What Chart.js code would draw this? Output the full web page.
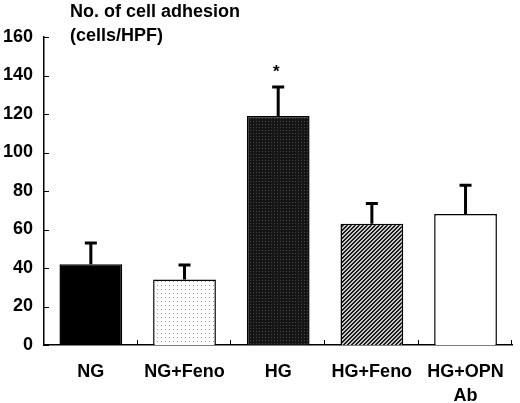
<!DOCTYPE html>
<html>
<head>
<meta charset="utf-8">
<script src="https://cdn.jsdelivr.net/npm/chart.js@4.4.1/dist/chart.umd.min.js"></script>
<style>
  html, body { margin: 0; padding: 0; background: #fff; }
  #wrap { width: 520px; height: 403px; }
</style>
</head>
<body>
<div id="wrap"><canvas id="adhesion-chart" width="520" height="403"></canvas></div>
<script>
// data
var groups = [['NG'], ['NG+Feno'], ['HG'], ['HG+Feno'], ['HG+OPN', 'Ab']];
var adhesion = [42, 34, 119, 63, 68];
var sem = [11, 7.5, 15, 10.5, 15];
var marks = ['', '', '*', '', ''];
var yTicks = [0, 20, 40, 60, 80, 100, 120, 140, 160];
var titleLines = ['No. of cell adhesion', '(cells/HPF)'];

var FAMILY = '"Liberation Sans", Arial, sans-serif';

var ctx = document.getElementById('adhesion-chart').getContext('2d');

function makePattern(size, draw) {
    var c = document.createElement('canvas');
    c.width = size;
    c.height = size;
    var g = c.getContext('2d');
    draw(g, size);
    return ctx.createPattern(c, 'repeat');
}

// fills that mimic the printed textures
var dotted = makePattern(4, function(g, s) {
    g.fillStyle = '#fff';
    g.fillRect(0, 0, s, s);
    g.fillStyle = '#999';
    g.fillRect(1, 1, 1, 1);
});
var darkCross = makePattern(3, function(g, s) {
    g.fillStyle = '#151515';
    g.fillRect(0, 0, s, s);
    g.fillStyle = '#444';
    g.fillRect(1, 1, 1, 1);
});
var diagonal = makePattern(4, function(g, s) {
    g.fillStyle = '#c8c8c8';
    g.fillRect(0, 0, s, s);
    g.fillStyle = '#1a1a1a';
    for (var i = 0; i < s; i++) {
        g.fillRect(i, s - 1 - i, 1, 1);
        g.fillRect((i + 1) % s, s - 1 - i, 1, 1);
    }
});
var fills = ['#000', dotted, darkCross, diagonal, '#fff'];

// title, error bars, asterisk and inward tick marks
var extras = {
    id: 'extras',
    afterDraw: function(chart) {
        var c = chart.ctx;
        var y = chart.scales.y;
        var area = chart.chartArea;
        var meta = chart.getDatasetMeta(0);
        c.save();

        // error bars (upper half only)
        c.strokeStyle = '#000';
        c.lineWidth = 3;
        meta.data.forEach(function(bar, i) {
            var top = y.getPixelForValue(adhesion[i] + sem[i]);
            c.beginPath();
            c.moveTo(bar.x, bar.y);
            c.lineTo(bar.x, top);
            c.moveTo(bar.x - 6, top);
            c.lineTo(bar.x + 6, top);
            c.stroke();
            if (marks[i]) {
                c.fillStyle = '#000';
                c.font = 'bold 17px ' + FAMILY;
                c.textAlign = 'center';
                c.textBaseline = 'middle';
                c.fillText(marks[i], bar.x - 2, top - 15);
            }
        });

        // tick marks pointing into the plot
        c.lineWidth = 1;
        yTicks.forEach(function(v) {
            var py = Math.round(y.getPixelForValue(v)) + 0.5;
            c.beginPath();
            c.moveTo(area.left, py);
            c.lineTo(area.left + 5, py);
            c.stroke();
        });
        var step = (area.right - area.left) / groups.length;
        for (var k = 1; k <= groups.length; k++) {
            var px = Math.round(area.left + k * step) - 0.5;
            c.beginPath();
            c.moveTo(px, area.bottom);
            c.lineTo(px, area.bottom - 5);
            c.stroke();
        }

        // axis title in the top left
        c.fillStyle = '#000';
        c.font = 'bold 18px ' + FAMILY;
        c.textAlign = 'left';
        c.textBaseline = 'middle';
        c.fillText(titleLines[0], area.left + 26, 12);
        c.fillText(titleLines[1], area.left + 26, 36);
        c.restore();
    }
};

var myChart = new Chart(ctx, {
    type: 'bar',
    data: {
        labels: groups,
        datasets: [{
            label: 'Cell adhesion',
            data: adhesion,
            backgroundColor: fills,
            borderColor: '#000',
            borderWidth: 1.5,
            borderSkipped: 'bottom',
            categoryPercentage: 1,
            barPercentage: 0.67
        }]
    },
    options: {
        responsive: false,
        animation: false,
        devicePixelRatio: 1,
        layout: {
            padding: { top: 37, right: 2, left: 0, bottom: 0 }
        },
        plugins: {
            legend: { display: false },
            tooltip: { enabled: false }
        },
        scales: {
            x: {
                offset: true,
                grid: { display: false, drawTicks: false },
                border: { display: true, color: '#000', width: 1.5 },
                ticks: {
                    color: '#000',
                    font: { family: FAMILY, size: 18, weight: 'bold', lineHeight: 1.28 },
                    padding: 16,
                    maxRotation: 0,
                    autoSkip: false
                },
                afterFit: function(scale) { scale.height = 58; }
            },
            y: {
                min: 0,
                max: 160,
                grid: { display: false, drawTicks: false },
                border: { display: true, color: '#000', width: 1.5 },
                afterBuildTicks: function(scale) {
                    scale.ticks = yTicks.map(function(v) { return { value: v }; });
                },
                ticks: {
                    color: '#000',
                    font: { family: FAMILY, size: 18, weight: 'bold' },
                    padding: 11
                },
                afterFit: function(scale) { scale.width = 44; }
            }
        }
    },
    plugins: [extras]
});
</script>
</body>
</html>
